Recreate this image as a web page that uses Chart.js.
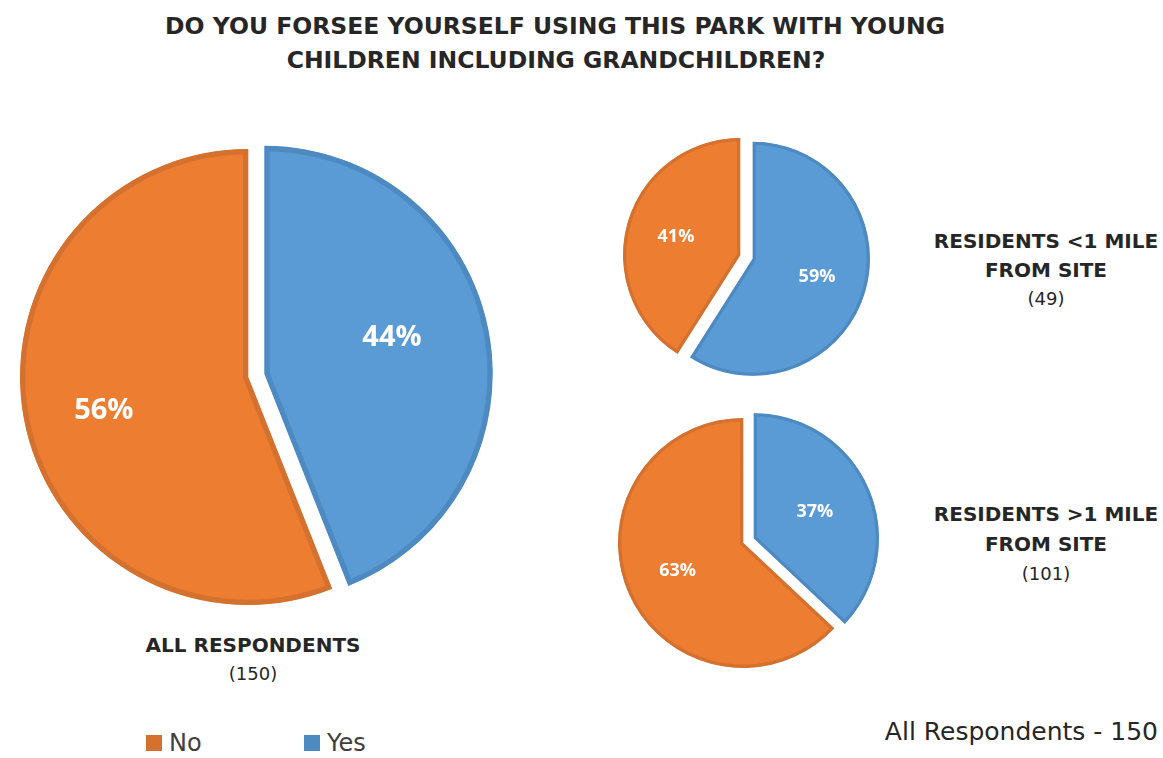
<!DOCTYPE html>
<html>
<head>
<meta charset="utf-8">
<script src="https://cdn.jsdelivr.net/npm/chart.js@4"></script>
<style>
  html, body { margin:0; padding:0; background:#fff; }
  body { width:1163px; height:758px; position:relative; overflow:hidden; font-family:'DejaVu Sans', sans-serif; color:#262626; }
  canvas { position:absolute; }
  .t { position:absolute; white-space:nowrap; transform:translate(-50%,-50%); text-align:center; }
  .b { font-weight:bold; }
  .legend { position:absolute; display:flex; align-items:center; font-size:24px; color:#404040; }
  .sw { width:16px; height:16px; display:inline-block; margin-right:7px; }
</style>
</head>
<body>
<div id="title"></div>
<canvas id="cAll" width="500" height="500" style="left:-2px;top:127px"></canvas>
<canvas id="cNear" width="280" height="280" style="left:600px;top:115px"></canvas>
<canvas id="cFar" width="290" height="290" style="left:598px;top:398px"></canvas>
<div id="labels"></div>
<div id="legend"></div>
<script>
// ---- data ----
const categories = ['No', 'Yes'];
const allRespondents = [56, 44];
const residentsUnder1Mile = [41, 59];
const residentsOver1Mile = [63, 37];
const titleLines = ['DO YOU FORSEE YOURSELF USING THIS PARK WITH YOUNG', 'CHILDREN INCLUDING GRANDCHILDREN?'];
const groupNames = [['ALL RESPONDENTS'], ['RESIDENTS <1 MILE', 'FROM SITE'], ['RESIDENTS >1 MILE', 'FROM SITE']];
const groupCounts = [150, 49, 101];
const footnote = 'All Respondents - 150';

// ---- styles ----
const fillColors = ['#ED7D31', '#5B9BD5'];
const borderColors = ['#D4712E', '#4E8AC2'];

// explodes slices (translation along bisector) and draws percentage labels
const pieDecor = {
  id: 'pieDecor',
  beforeDatasetsDraw(chart, args, opts) {
    const meta = chart.getDatasetMeta(0);
    meta.data.forEach((arc, i) => {
      const s = opts.explode[i] || 0;
      const mid = (arc.startAngle + arc.endAngle) / 2;
      arc._ox = arc.x; arc._oy = arc.y;
      arc.x = arc.x + Math.cos(mid) * s;
      arc.y = arc.y + Math.sin(mid) * s;
    });
  },
  afterDatasetsDraw(chart, args, opts) {
    const ctx = chart.ctx;
    const meta = chart.getDatasetMeta(0);
    const data = chart.data.datasets[0].data;
    const total = data.reduce((a, b) => a + b, 0);
    ctx.save();
    ctx.fillStyle = '#FFFFFF';
    ctx.font = 'bold ' + opts.size + 'px "Open Sans", sans-serif';
    ctx.textAlign = 'center';
    ctx.textBaseline = 'middle';
    meta.data.forEach((arc, i) => {
      const mid = (arc.startAngle + arc.endAngle) / 2 + (opts.angleAdj[i] || 0) * Math.PI / 180;
      const d = arc.outerRadius * opts.frac[i];
      const x = arc.x + Math.cos(mid) * d;
      const y = arc.y + Math.sin(mid) * d;
      ctx.fillText(Math.round(data[i] / total * 100) + '%', x, y);
    });
    ctx.restore();
    meta.data.forEach(arc => { arc.x = arc._ox; arc.y = arc._oy; });
  }
};

function makePie(id, values, radius, border, explode, labelSize, frac, angleAdj) {
  const total = values.reduce((a, b) => a + b, 0);
  return new Chart(document.getElementById(id), {
    type: 'pie',
    data: {
      labels: categories,
      datasets: [{
        data: values,
        backgroundColor: fillColors,
        borderColor: borderColors,
        borderWidth: border,
        borderAlign: 'inner'
      }]
    },
    options: {
      responsive: false,
      animation: false,
      events: [],
      radius: radius,
      rotation: values[1] / total * 360,
      layout: { padding: 0 },
      plugins: {
        legend: { display: false },
        tooltip: { enabled: false },
        title: { display: false },
        pieDecor: { explode: explode, size: labelSize, frac: frac, angleAdj: angleAdj }
      }
    },
    plugins: [pieDecor]
  });
}

makePie('cAll', allRespondents, 228, 5, [0, 17], 29, [0.65, 0.58], [-2.5, -5]);
makePie('cNear', residentsUnder1Mile, 117, 3, [0, 13.5], 18, [0.57, 0.57], [0, 0]);
makePie('cFar', residentsOver1Mile, 125, 3, [0, 12], 18, [0.57, 0.53], [0, 0]);

// ---- text ----
function addText(parent, txt, x, y, size, bold, color) {
  const d = document.createElement('div');
  d.className = 't' + (bold ? ' b' : '');
  d.style.left = x + 'px';
  d.style.top = y + 'px';
  d.style.fontSize = size + 'px';
  if (color) d.style.color = color;
  d.textContent = txt;
  parent.appendChild(d);
}
const title = document.getElementById('title');
addText(title, titleLines[0], 555, 26, 23.5, true);
addText(title, titleLines[1], 556, 60, 23.5, true);

const lab = document.getElementById('labels');
const groupPos = [[253, [645], 673], [1046, [241, 270], 298], [1046, [514, 544], 573]];
groupNames.forEach((lines, g) => {
  const [x, ys, cy] = groupPos[g];
  lines.forEach((ln, k) => addText(lab, ln, x, ys[k], 20, true));
  addText(lab, '(' + groupCounts[g] + ')', x, cy, 18, false);
});
const fn = document.createElement('div');
fn.style.cssText = 'position:absolute;right:5px;top:717px;font-size:25px;color:#262626;white-space:nowrap;';
fn.textContent = footnote;
lab.appendChild(fn);

// ---- legend ----
const legend = document.getElementById('legend');
const legendX = [146, 304];
categories.forEach((c, i) => {
  const d = document.createElement('div');
  d.className = 'legend';
  d.style.left = legendX[i] + 'px';
  d.style.top = '729px';
  d.innerHTML = '<span class="sw" style="background:' + borderColors[i] + '"></span><span>' + c + '</span>';
  legend.appendChild(d);
});
</script>
</body>
</html>
